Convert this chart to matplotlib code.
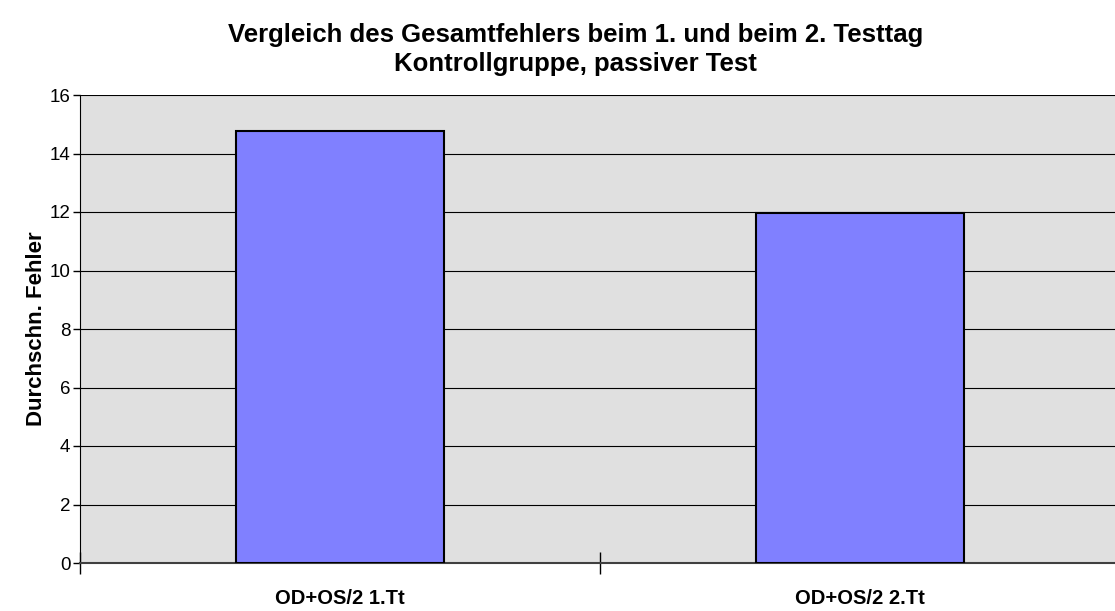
import matplotlib
matplotlib.use("Agg")
import matplotlib.pyplot as plt

# Daten
kategorien = ["OD+OS/2 1.Tt", "OD+OS/2 2.Tt"]
fehler = [14.77, 11.95]
y_ticks = [0, 2, 4, 6, 8, 10, 12, 14, 16]

titel = "Vergleich des Gesamtfehlers beim 1. und beim 2. Testtag\nKontrollgruppe, passiver Test"

plt.rcParams['font.family'] = ['Liberation Sans', 'DejaVu Sans']

fig = plt.figure(figsize=(11.15, 6.11), dpi=100)
ax = fig.add_axes([80 / 1115, 1 - 563 / 611, 1040 / 1115, 468 / 611])
ax.set_facecolor('#E0E0E0')

x = range(len(kategorien))
ax.bar(x, fehler, width=0.4, color='#8080FF', edgecolor='black', linewidth=1.5, zorder=3)

ax.set_xlim(-0.5, len(kategorien) - 0.5)
ax.set_ylim(0, 16)
ax.set_yticks(y_ticks)
ax.set_yticklabels([str(t) for t in y_ticks], fontsize=13.5)
ax.yaxis.grid(True, color='black', linewidth=0.8, zorder=1)
ax.set_axisbelow(True)

# Kategorie-Trennstriche auf der x-Achse
ax.set_xticks([-0.5, 0.5, 1.5])
ax.set_xticklabels([])
ax.set_xticks(list(x), minor=True)
ax.set_xticklabels(kategorien, minor=True, fontsize=14.5, fontweight='bold')
ax.tick_params(axis='x', which='major', direction='inout', length=16, width=1, color='black')
ax.tick_params(axis='x', which='minor', length=0, pad=19)
ax.tick_params(axis='y', direction='out', length=5, width=1, color='black', pad=2)

for side in ['top', 'right']:
    ax.spines[side].set_visible(False)
ax.spines['left'].set_color('black')
ax.spines['bottom'].set_color('#404040')
ax.spines['bottom'].set_linewidth(1.5)

ax.set_ylabel("Durchschn. Fehler", fontsize=16, fontweight='bold', labelpad=2)

fig.text(0.516, 0.963, titel, ha='center', va='top', fontsize=18.5, fontweight='bold',
         linespacing=1.3)

fig.savefig('out.png', dpi=100, facecolor='white')
